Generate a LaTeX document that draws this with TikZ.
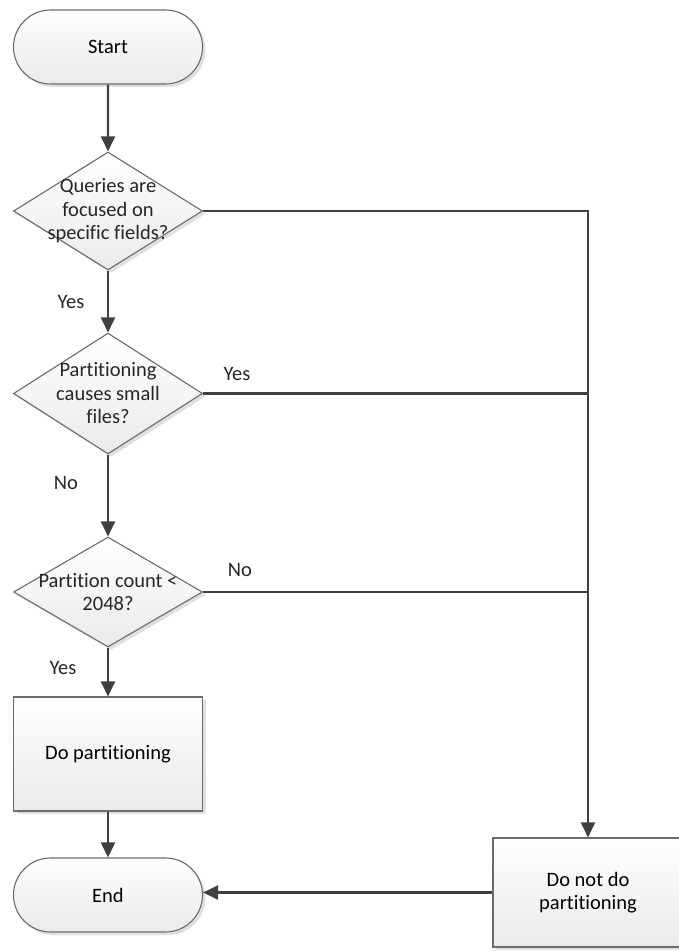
\documentclass[tikz,border=0pt]{standalone}
\usepackage{fontspec}
\setmainfont{Carlito}[Ligatures=NoCommon]
\usetikzlibrary{shapes.geometric,shapes.misc,arrows.meta,shadows}
\definecolor{flowline}{HTML}{404040}
\definecolor{shapeline}{HTML}{6A6A6A}
\begin{document}
\begin{tikzpicture}[x=1pt,y=-1pt,
  font=\fontsize{20.5}{23.5}\selectfont,
  shapebase/.style={draw=shapeline, line width=1.1pt, top color=white, bottom color=black!8,
    drop shadow={shadow xshift=3pt, shadow yshift=-3pt, opacity=0.12, fill=black}},
  terminal/.style={shapebase, rounded rectangle, minimum width=189pt, minimum height=74pt, inner sep=0pt},
  decision/.style={shapebase, diamond, minimum width=189pt, minimum height=118pt, inner sep=0pt, aspect=1.6},
  process/.style={shapebase, rectangle, minimum width=189pt, minimum height=114pt, inner sep=0pt, align=center},
  flow/.style={draw=flowline, line width=2.2pt, -{Triangle[length=15pt,width=14pt]}},
  plainline/.style={draw=flowline, line width=2.2pt},
  txt/.style={align=center, inner sep=0pt, text=black!85},
  lbl/.style={inner sep=0pt, text=black!85}]
\useasboundingbox (0,0) rectangle (678,952);

% main column
\node[terminal] (start) at (108,47) {Start};
\node[decision] (q1) at (108,211) {};
\node[txt] (q1t) at (q1) {Queries are\\focused on\\specific fields?};
\node[decision, minimum height=121pt] (q2) at (108,393.5) {};
\node[txt] (q2t) at (q2) {Partitioning\\causes small\\files?};
\node[decision, minimum height=110pt] (q3) at (108,592) {};
\node[txt] (q3t) at (q3) {Partition count <\\2048?};
\node[process] (dp) at (108,754) {Do partitioning};
\node[terminal] (end) at (108,895) {End};

% right branch
\node[process, minimum width=190pt, minimum height=109pt] (dn) at (588,892.5) {Do not do\\partitioning};

% connectors
\draw[flow] (start) -- (q1);
\draw[flow] (q1) -- (q2);
\draw[flow] (q2) -- (q3);
\draw[flow] (q3) -- (dp);
\draw[flow] (dp) -- (end);
\draw[flow] (q1.east) -| (dn.north);
\draw[plainline] (q2.east) -- (q2.east -| dn.north);
\draw[plainline] (q3.east) -- (q3.east -| dn.north);
\draw[flow] (dn.west) -- (end.east |- dn.west);

% branch labels
\node[lbl] (l1) at (71,302) {Yes};
\node[lbl] (l2) at (237,374) {Yes};
\node[lbl] (l3) at (66,483) {No};
\node[lbl] (l4) at (240,570) {No};
\node[lbl] (l5) at (63,668) {Yes};
\end{tikzpicture}
\end{document}
